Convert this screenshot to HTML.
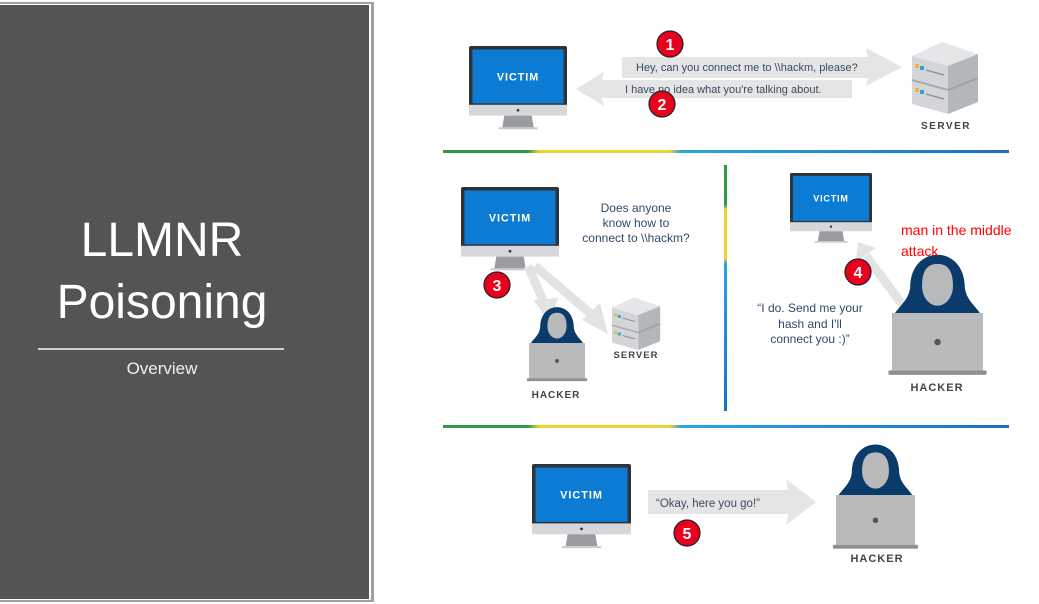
<!DOCTYPE html>
<html><head><meta charset="utf-8"><style>
html,body{margin:0;padding:0;background:#fff;}
svg{display:block;}
text{font-family:"Liberation Sans",sans-serif;}
</style></head><body>
<svg width="1039" height="604" viewBox="0 0 1039 604" xmlns="http://www.w3.org/2000/svg">
<defs>
<g id="mon">
 <rect x="0" y="0" width="100" height="62" rx="2" fill="#2f3236"/>
 <rect x="3.5" y="3.5" width="93" height="55" fill="#0b7bd3"/>
 <rect x="0" y="60" width="100" height="11" fill="#d5d7da"/>
 <circle cx="50" cy="65.5" r="1.4" fill="#333"/>
 <polygon points="36,71 64,71 66,83 34,83" fill="#9a9c9f"/>
 <rect x="30" y="83" width="40" height="2" fill="#c9cacc"/>
 <text x="50" y="35" text-anchor="middle" font-size="11" font-weight="bold" fill="#fff" letter-spacing="1">VICTIM</text>
</g>
<g id="hack">
 <path d="M2,2 C10,-10 18,-14 20,-28 C20,-52 35,-64 50,-64 C65,-64 80,-52 80,-28 C82,-14 90,-10 98,2 Z" fill="#0b3b6a"/>
 <path d="M33,-30 C33,-48 40,-54 50,-54 C60,-54 67,-48 67,-30 C67,-16 58,-8 50,-8 C42,-8 33,-16 33,-30 Z" fill="#b8b9bb"/>
 <rect x="0" y="0" width="100" height="63" fill="#b9babc"/>
 <rect x="-4" y="63" width="108" height="5" rx="2" fill="#8e9092"/>
 <circle cx="50" cy="32" r="3.5" fill="#555"/>
</g>
<g id="srv">
 <polygon points="0,16 30,2 66,14 36,26" fill="#e4e6e8"/>
 <polygon points="0,16 36,26 36,74 0,64" fill="#d3d5d8"/>
 <polygon points="36,26 66,14 66,62 36,74" fill="#b4b7ba"/>
 <line x1="0" y1="40" x2="36" y2="50" stroke="#a8abae" stroke-width="2"/>
 <line x1="36" y1="50" x2="66" y2="38" stroke="#9ea1a4" stroke-width="2"/>
 <rect x="3" y="24" width="4" height="4" fill="#f2b531"/>
 <rect x="8" y="26" width="4" height="4" fill="#2aa5e6"/>
 <line x1="14" y1="30" x2="32" y2="35" stroke="#8a8d90" stroke-width="1.2"/>
 <rect x="3" y="48" width="4" height="4" fill="#f2b531"/>
 <rect x="8" y="50" width="4" height="4" fill="#2aa5e6"/>
 <line x1="14" y1="54" x2="32" y2="59" stroke="#8a8d90" stroke-width="1.2"/>
</g>
<linearGradient id="hg" x1="0" x2="1" y1="0" y2="0">
 <stop offset="0" stop-color="#2e9a48"/><stop offset="0.15" stop-color="#2e9a48"/>
 <stop offset="0.17" stop-color="#f2d22e"/><stop offset="0.4" stop-color="#f2d22e"/>
 <stop offset="0.42" stop-color="#27a7e0"/><stop offset="1" stop-color="#1b6fc4"/>
</linearGradient>
<linearGradient id="vg" x1="0" x2="0" y1="0" y2="1">
 <stop offset="0" stop-color="#2e9a48"/><stop offset="0.16" stop-color="#2e9a48"/>
 <stop offset="0.18" stop-color="#f2d22e"/><stop offset="0.38" stop-color="#f2d22e"/>
 <stop offset="0.4" stop-color="#27a7e0"/><stop offset="1" stop-color="#1b6fc4"/>
</linearGradient>
</defs>

<!-- left panel -->
<rect x="0" y="0" width="376" height="604" fill="#fff"/>
<rect x="0" y="2" width="374" height="600" fill="#a0a0a0"/>
<rect x="0" y="4" width="371" height="596" fill="#fff"/>
<rect x="0" y="5" width="369" height="594" fill="#545454"/>
<text x="162" y="256" text-anchor="middle" font-size="48" fill="#fff" font-family="'DejaVu Sans',sans-serif" font-weight="200">LLMNR</text>
<text x="162" y="318" text-anchor="middle" font-size="48" fill="#fff" font-family="'DejaVu Sans',sans-serif" font-weight="200">Poisoning</text>
<rect x="38" y="348" width="246" height="2" fill="#d0d0d0"/>
<text x="162" y="374" text-anchor="middle" font-size="17" fill="#f0f0f0">Overview</text>

<!-- dividers -->
<rect x="443" y="150" width="566" height="3" fill="url(#hg)"/>
<rect x="443" y="425" width="566" height="3" fill="url(#hg)"/>
<rect x="724" y="165" width="3" height="246" fill="url(#vg)"/>

<!-- top section -->
<use href="#mon" transform="translate(469,46) scale(0.98)"/>
<use href="#srv" transform="translate(912,40)"/>
<text x="946" y="129" text-anchor="middle" font-size="10" font-weight="bold" fill="#444" letter-spacing="1.5">SERVER</text>
<polygon points="622,57 868,57 866,48 902,67 866,86 868,78 622,78" fill="#e5e5e5"/>
<polygon points="852,80 602,80 604,72 576,89 604,106 602,98 852,98" fill="#e5e5e5"/>
<text x="636" y="71" font-size="11" fill="#3a4a5e">Hey, can you connect me to \\hackm, please?</text>
<text x="625" y="93" font-size="11" fill="#3a4a5e">I have no idea what you're talking about.</text>

<!-- middle left -->
<use href="#mon" transform="translate(461,187) scale(0.98)"/>
<line x1="528" y1="266" x2="545" y2="305" stroke="#e3e3e3" stroke-width="9"/>
<polygon points="533,300 558,298 550,322" fill="#e3e3e3"/>
<line x1="535" y1="266" x2="592" y2="315" stroke="#e3e3e3" stroke-width="9"/>
<polygon points="582,320 600,303 608,334" fill="#e3e3e3"/>
<text x="636" y="212" text-anchor="middle" font-size="12" fill="#2f4a6a">Does anyone</text>
<text x="636" y="227" text-anchor="middle" font-size="12" fill="#2f4a6a">know how to</text>
<text x="636" y="242" text-anchor="middle" font-size="12" fill="#2f4a6a">connect to \\hackm?</text>
<use href="#hack" transform="translate(529,343) scale(0.56)"/>
<text x="556" y="398" text-anchor="middle" font-size="10" font-weight="bold" fill="#444" letter-spacing="1">HACKER</text>
<use href="#srv" transform="translate(612,296) scale(0.73)"/>
<text x="636" y="358" text-anchor="middle" font-size="9.5" font-weight="bold" fill="#444" letter-spacing="1">SERVER</text>

<!-- middle right -->
<use href="#mon" transform="translate(790,173) scale(0.82)"/>
<line x1="905" y1="308" x2="866" y2="256" stroke="#e3e3e3" stroke-width="9"/>
<polygon points="856,262 876,248 858,242" fill="#e3e3e3"/>
<use href="#hack" transform="translate(892,313) scale(0.91)"/>
<text x="937" y="391" text-anchor="middle" font-size="11" font-weight="bold" fill="#444" letter-spacing="1">HACKER</text>
<text x="810" y="312" text-anchor="middle" font-size="12" fill="#2f4a6a">“I do. Send me your</text>
<text x="810" y="328" text-anchor="middle" font-size="12" fill="#2f4a6a">hash and I'll</text>
<text x="810" y="343" text-anchor="middle" font-size="12" fill="#2f4a6a">connect you :)”</text>
<text x="901" y="235" font-size="14" fill="#ff0000">man in the middle</text>
<text x="901" y="256" font-size="14" fill="#ff0000">attack</text>

<!-- bottom -->
<use href="#mon" transform="translate(532,464) scale(0.99)"/>
<polygon points="648,490 788,490 786,479 816,502 786,525 788,514 648,514" fill="#e5e5e5"/>
<text x="656" y="507" font-size="11.5" fill="#3a4a5e">“Okay, here you go!”</text>
<use href="#hack" transform="translate(836,495) scale(0.79)"/>
<text x="877" y="562" text-anchor="middle" font-size="11" font-weight="bold" fill="#444" letter-spacing="1">HACKER</text>

<!-- badges -->
<g font-family="'Liberation Serif',serif" font-weight="bold" font-size="16" fill="#fff" text-anchor="middle" stroke-width="1.2">
 <circle cx="670" cy="44" r="13" fill="#e8001c" stroke="#222"/><text x="670" y="50">1</text>
 <circle cx="662" cy="104" r="13" fill="#e8001c" stroke="#222"/><text x="662" y="110">2</text>
 <circle cx="497" cy="285" r="13" fill="#e8001c" stroke="#222"/><text x="497" y="291">3</text>
 <circle cx="858" cy="272" r="13" fill="#e8001c" stroke="#222"/><text x="858" y="278">4</text>
 <circle cx="687" cy="533" r="13" fill="#e8001c" stroke="#222"/><text x="687" y="539">5</text>
</g>
</svg>
</body></html>
